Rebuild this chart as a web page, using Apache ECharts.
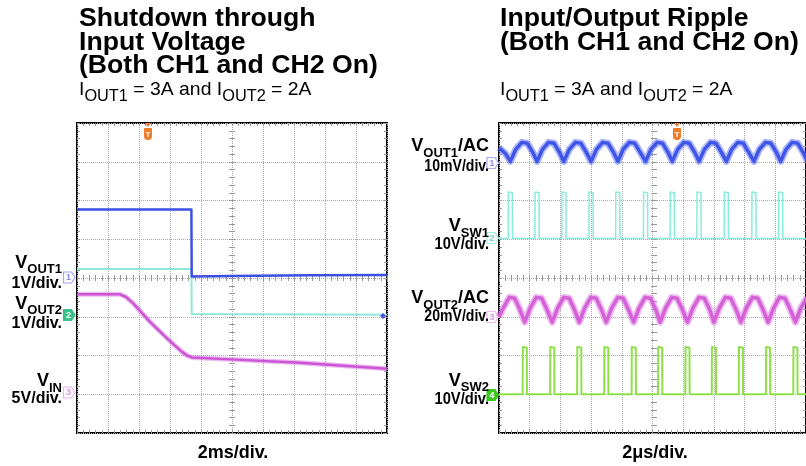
<!DOCTYPE html>
<html><head><meta charset="utf-8">
<script src="https://cdn.jsdelivr.net/npm/echarts@6/dist/echarts.min.js"></script>
<style>html,body{margin:0;padding:0;background:#fff;}#c{width:806px;height:466px;}</style>
</head><body><div id="c"></div>
<script>
// ---------- Left scope: time in ms (2 ms/div), amplitude in screen divisions ----------
const vout1Shutdown = [[-10,1.77],[-2.62,1.77],[-2.6,0.04],[0,0.05],[5,0.07],[10,0.08]];
const vout2Shutdown = [[-10,0.23],[-2.62,0.23],[-2.6,-0.93],[10,-0.95]];
const vinShutdown = [[-10,-0.42],[-7.23,-0.42],[-6.84,-0.49],[-6.39,-0.65],[-5.29,-1.13],[-4.21,-1.55],
  [-3.25,-1.90],[-2.9,-2.0],[-2.58,-2.05],[-0.06,-2.10],[4.39,-2.19],[10,-2.34]];

// ---------- Right scope: time in µs (2 µs/div), amplitude in screen divisions ----------
const vout1Ripple = [[0,3.36],[0.40,3.22],[0.742,3.01],
  [1.09,3.32],[1.49,3.50],[1.84,3.48],[2.19,3.25],[2.484,3.01],
  [2.83,3.32],[3.23,3.50],[3.58,3.48],[3.93,3.25],[4.226,3.01],
  [4.58,3.32],[4.98,3.50],[5.33,3.48],[5.68,3.25],[6.0,3.01],
  [6.35,3.32],[6.75,3.50],[7.1,3.48],[7.45,3.25],[7.742,3.01],
  [8.09,3.32],[8.49,3.50],[8.84,3.48],[9.19,3.25],[9.548,3.01],
  [9.90,3.32],[10.30,3.50],[10.65,3.48],[11.0,3.25],[11.29,3.01],
  [11.64,3.32],[12.04,3.50],[12.39,3.48],[12.74,3.25],[13.03,3.01],
  [13.38,3.32],[13.78,3.50],[14.13,3.48],[14.48,3.25],[14.81,3.01],
  [15.16,3.32],[15.56,3.50],[15.91,3.48],[16.26,3.25],[16.61,3.01],
  [16.96,3.32],[17.36,3.50],[17.71,3.48],[18.06,3.25],[18.35,3.01],
  [18.70,3.32],[19.10,3.50],[19.45,3.48],[19.80,3.25],[20.1,3.01]];
const vsw1 = [[0,1.02],
  [0.60,1.02],[0.61,2.22],[0.87,2.2],[0.88,1.02],
  [2.34,1.02],[2.35,2.22],[2.61,2.2],[2.62,1.02],
  [4.09,1.02],[4.10,2.22],[4.36,2.2],[4.37,1.02],
  [5.86,1.02],[5.87,2.22],[6.13,2.2],[6.14,1.02],
  [7.60,1.02],[7.61,2.22],[7.87,2.2],[7.88,1.02],
  [9.41,1.02],[9.42,2.22],[9.68,2.2],[9.69,1.02],
  [11.15,1.02],[11.16,2.22],[11.42,2.2],[11.43,1.02],
  [12.89,1.02],[12.90,2.22],[13.16,2.2],[13.17,1.02],
  [14.67,1.02],[14.68,2.22],[14.94,2.2],[14.95,1.02],
  [16.47,1.02],[16.48,2.22],[16.74,2.2],[16.75,1.02],
  [18.21,1.02],[18.22,2.22],[18.48,2.2],[18.49,1.02],
  [20,1.02]];
const vout2Ripple = [[0,-1.0],[0.27,-0.78],[0.67,-0.50],[1.02,-0.52],[1.37,-0.82],
  [1.677,-1.14],[2.03,-0.78],[2.43,-0.50],[2.78,-0.52],[3.13,-0.82],
  [3.465,-1.14],[3.82,-0.78],[4.22,-0.50],[4.57,-0.52],[4.92,-0.82],
  [5.226,-1.14],[5.58,-0.78],[5.98,-0.50],[6.33,-0.52],[6.68,-0.82],
  [6.987,-1.14],[7.34,-0.78],[7.74,-0.50],[8.09,-0.52],[8.44,-0.82],
  [8.774,-1.14],[9.12,-0.78],[9.52,-0.50],[9.87,-0.52],[10.22,-0.82],
  [10.497,-1.14],[10.85,-0.78],[11.25,-0.50],[11.60,-0.52],[11.95,-0.82],
  [12.277,-1.14],[12.63,-0.78],[13.03,-0.50],[13.38,-0.52],[13.73,-0.82],
  [14.0,-1.14],[14.35,-0.78],[14.75,-0.50],[15.10,-0.52],[15.45,-0.82],
  [15.76,-1.14],[16.11,-0.78],[16.51,-0.50],[16.86,-0.52],[17.21,-0.82],
  [17.53,-1.14],[17.88,-0.78],[18.28,-0.50],[18.63,-0.52],[18.98,-0.82],
  [19.31,-1.14],[19.66,-0.78],[20.06,-0.50]];
const vsw2 = [[0,-3.0],
  [1.54,-3.0],[1.55,-1.78],[1.81,-1.8],[1.82,-3.0],
  [3.33,-3.0],[3.34,-1.78],[3.60,-1.8],[3.61,-3.0],
  [5.09,-3.0],[5.10,-1.78],[5.36,-1.8],[5.37,-3.0],
  [6.85,-3.0],[6.86,-1.78],[7.12,-1.8],[7.13,-3.0],
  [8.64,-3.0],[8.65,-1.78],[8.91,-1.8],[8.92,-3.0],
  [10.36,-3.0],[10.37,-1.78],[10.63,-1.8],[10.64,-3.0],
  [12.14,-3.0],[12.15,-1.78],[12.41,-1.8],[12.42,-3.0],
  [13.86,-3.0],[13.87,-1.78],[14.13,-1.8],[14.14,-3.0],
  [15.62,-3.0],[15.63,-1.78],[15.89,-1.8],[15.90,-3.0],
  [17.39,-3.0],[17.40,-1.78],[17.66,-1.8],[17.67,-3.0],
  [19.17,-3.0],[19.18,-1.78],[19.44,-1.8],[19.45,-3.0],
  [20,-3.0]];

const leftTitle = ['Shutdown through', 'Input Voltage', '(Both CH1 and CH2 On)'];
const rightTitle = ['Input/Output Ripple', '(Both CH1 and CH2 On)'];
const leftTimeLabel = '2ms/div.';
const rightTimeLabel = '2\u03bcs/div.';

// ---------- axes helpers ----------
const FONT = '"Liberation Sans", Arial, sans-serif';
const tickStyle = {color:'#999999', width:1};
const gridDot = '#a8a8a8';
function tick(inside){ return {show:true, inside:inside, length:3, lineStyle:tickStyle}; }
function minor(){ return {show:true, splitNumber:5, length:3, lineStyle:tickStyle}; }
function xAxes(gi, min, max, interval){
  const c = {gridIndex:gi, type:'value', min:min, max:max, interval:interval,
    axisLabel:{show:false}, axisLine:{show:false, onZero:false}, splitLine:{show:false}};
  return [
    Object.assign({}, c, {position:'bottom', axisTick:tick(true), minorTick:minor(),
      splitLine:{show:true, lineStyle:{color:gridDot, width:1, type:'dotted'}}}),
    Object.assign({}, c, {position:'top', axisTick:tick(true), minorTick:minor()}),
    Object.assign({}, c, {position:'bottom', offset:-155, axisTick:tick(true), minorTick:minor()}),
    Object.assign({}, c, {position:'bottom', offset:-155, axisTick:tick(false), minorTick:minor()})
  ];
}
function yAxes(gi){
  const c = {gridIndex:gi, type:'value', min:-4, max:4, interval:1,
    axisLabel:{show:false}, axisLine:{show:false, onZero:false}, splitLine:{show:false}};
  return [
    Object.assign({}, c, {position:'left', axisTick:tick(true), minorTick:minor(),
      splitLine:{show:true, lineStyle:{color:gridDot, width:1, type:'dotted'}}}),
    Object.assign({}, c, {position:'right', axisTick:tick(true), minorTick:minor()}),
    Object.assign({}, c, {position:'left', offset:-155, axisTick:tick(true), minorTick:minor()}),
    Object.assign({}, c, {position:'left', offset:-155, axisTick:tick(false), minorTick:minor()})
  ];
}

function line(name, data, xi, color, width, z){
  return {type:'line', name:name, data:data, xAxisIndex:xi, yAxisIndex:xi, showSymbol:false,
    symbol:'none', animation:false, z:z||2, lineStyle:{color:color, width:width, join:'round'}};
}

// ---------- graphic helpers ----------
function txt(x, y, text, size, opts){
  opts = opts || {};
  return {type:'text', x:x, y:y, scaleX:opts.scaleX||1, z:100,
    style:{text:text, font:'bold '+size+'px '+FONT, fill:'#000', align:opts.align||'left', verticalAlign:'middle'}};
}
function subLabel(x, y, main, sub, rest, size, subSize, pad, sx){
  const t = '{m|'+main+'}{s|'+sub+'}' + (rest ? '{m|'+rest+'}' : '');
  return {type:'text', x:x, y:y, z:100, scaleX:sx||1,
    style:{text:t, align:'right', verticalAlign:'middle', fill:'#000',
      rich:{m:{fontSize:size, fontWeight:'bold', fontFamily:FONT, lineHeight:size, verticalAlign:'middle', fill:'#000'},
            s:{fontSize:subSize, fontWeight:'bold', fontFamily:FONT, lineHeight:subSize, padding:[pad,0,0,0], verticalAlign:'middle', fill:'#000'}}}};
}
function subtitle(x, y){
  const t = '{m|I}{s|OUT1}{m| = 3A and I}{s|OUT2}{m| = 2A}';
  return {type:'text', x:x, y:y, z:100, scaleX:1.02,
    style:{text:t, align:'left', verticalAlign:'middle', fill:'#000',
      rich:{m:{fontSize:19, fontFamily:FONT, lineHeight:19, verticalAlign:'middle', fill:'#000'},
            s:{fontSize:16, fontFamily:FONT, lineHeight:16, padding:[13,0,0,0], verticalAlign:'middle', fill:'#000'}}}};
}
function marker(x, y, label, stroke, fill, textColor){
  return {type:'group', x:x, y:y, z:100, children:[
    {type:'polygon', shape:{points:[[0,-5.5],[8,-5.5],[11.5,0],[8,5.5],[0,5.5]]},
      style:{fill:fill, stroke:stroke, lineWidth:1.2}},
    {type:'text', x:5, y:0.5, style:{text:label, font:'bold 9px '+FONT, fill:textColor, align:'center', verticalAlign:'middle'}}
  ]};
}
function trigger(x){
  return {type:'group', x:x, y:123, z:100, children:[
    {type:'polygon', shape:{points:[[-3,0],[3,0],[0,4]]}, style:{fill:'#f07a28'}},
    {type:'rect', shape:{x:-4, y:5, width:8, height:12, r:[1,1,4,4]}, style:{fill:'#f07a28'}},
    {type:'text', x:0, y:11.5, style:{text:'T', font:'bold 8px '+FONT, fill:'#fff', align:'center', verticalAlign:'middle'}}
  ]};
}

const graphics = [];
leftTitle.forEach((s,i)=>graphics.push(txt(79, 19.5+23.5*i, s, 25, {scaleX:1.065})));
rightTitle.forEach((s,i)=>graphics.push(txt(500, 19.5+23.5*i, s, 25, {scaleX:1.065})));
graphics.push(subtitle(79, 90));
graphics.push(subtitle(500, 90));
// left channel labels
graphics.push(subLabel(62, 263, 'V', 'OUT1', '', 18, 13, 13));
graphics.push(txt(62, 284, '1V/div.', 16, {align:'right'}));
graphics.push(subLabel(62, 304, 'V', 'OUT2', '', 18, 13, 13));
graphics.push(txt(62, 324, '1V/div.', 16, {align:'right'}));
graphics.push(subLabel(62, 381.5, 'V', 'IN', '', 18, 13, 13));
graphics.push(txt(62, 399, '5V/div.', 16, {align:'right'}));
// right channel labels
graphics.push(subLabel(489, 146.5, 'V', 'OUT1', '/AC', 18, 13, 13));
graphics.push(txt(489, 167, '10mV/div.', 16, {align:'right', scaleX:0.88}));
graphics.push(subLabel(489, 226.5, 'V', 'SW1', '', 18, 13, 13));
graphics.push(txt(489, 245, '10V/div.', 16, {align:'right', scaleX:0.92}));
graphics.push(subLabel(489, 298.5, 'V', 'OUT2', '/AC', 18, 13, 13));
graphics.push(txt(489, 316.5, '20mV/div.', 16, {align:'right', scaleX:0.88}));
graphics.push(subLabel(489, 381, 'V', 'SW2', '', 18, 13, 13));
graphics.push(txt(489, 400, '10V/div.', 16, {align:'right', scaleX:0.92}));
// time base labels
graphics.push(txt(233, 453, leftTimeLabel, 18, {align:'center'}));
graphics.push(txt(655, 453, rightTimeLabel, 18, {align:'center'}));
// channel markers
graphics.push(marker(63.5, 277.5, '1', '#a4a4ff', '#ffffff', '#8c8cf0'));
graphics.push(marker(63.5, 315, '2', '#3cc08a', '#3cc08a', '#ffffff'));
graphics.push(marker(63.5, 392.5, '3', '#e8b4f0', '#ffffff', '#d890e8'));
graphics.push(marker(487, 163, '1', '#a8a8f8', '#ffffff', '#8c8cf0'));
graphics.push(marker(487, 238, '2', '#a0f0e0', '#ffffff', '#70d8c8'));
graphics.push(marker(487, 317, '3', '#f0b4f0', '#ffffff', '#e090e8'));
graphics.push(marker(487, 395, '4', '#3cc81e', '#3cc81e', '#ffffff'));
graphics.push(trigger(148));
graphics.push(trigger(677));
graphics.push({type:'polygon', z:100, shape:{points:[[380,316],[383,313],[386,316],[383,319]]}, style:{fill:'#5050e0'}});

const chart = echarts.init(document.getElementById('c'), null, {renderer:'canvas'});
chart.setOption({
  animation:false,
  backgroundColor:'#ffffff',
  grid:[
    {left:77, top:123, width:310, height:310, show:true, borderColor:'#000', borderWidth:2},
    {left:499, top:123, width:310, height:310, show:true, borderColor:'#000', borderWidth:2}
  ],
  xAxis: xAxes(0, -10, 10, 2).concat(xAxes(1, 0, 20, 2)),
  yAxis: yAxes(0).concat(yAxes(1)),
  series:[
    line('VOUT2', vout2Shutdown, 0, '#8ee8d8', 2),
    line('VOUT1', vout1Shutdown, 0, '#3d4fe2', 2.5, 3),
    line('VIN fuzz', vinShutdown, 0, 'rgba(204,85,214,0.4)', 5),
    line('VIN', vinShutdown, 0, '#cc55d6', 2.5),
    line('VOUT1/AC fuzz', vout1Ripple, 4, 'rgba(70,90,240,0.45)', 7),
    line('VOUT1/AC', vout1Ripple, 4, '#3f55e8', 3.5),
    line('VSW1', vsw1, 4, '#86ecdc', 1.5),
    line('VOUT2/AC fuzz', vout2Ripple, 4, 'rgba(214,100,220,0.45)', 7),
    line('VOUT2/AC', vout2Ripple, 4, '#d461d8', 3.5),
    line('VSW2', vsw2, 4, '#8ee04a', 2)
  ],
  graphic:{elements:graphics}
});
</script>
</body></html>
